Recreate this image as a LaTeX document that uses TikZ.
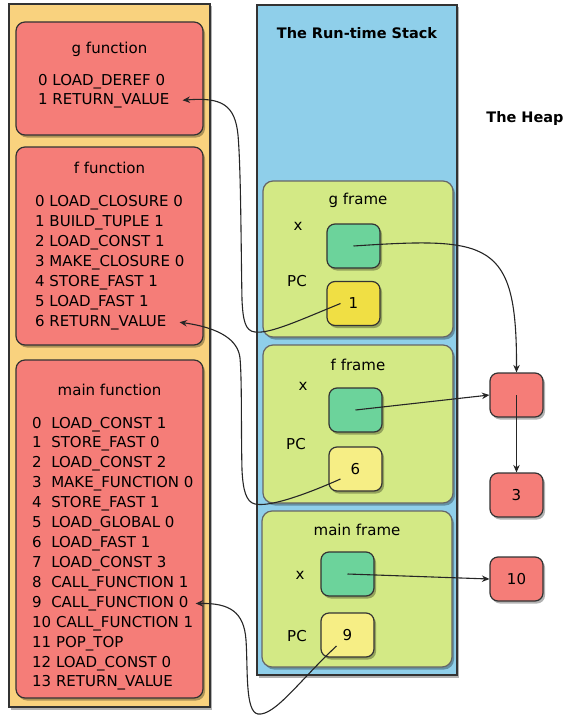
\documentclass[tikz,border=0pt]{standalone}
\usepackage{fontspec}
\setsansfont{DejaVu Sans}
\usetikzlibrary{arrows.meta,shadows}
\definecolor{codeyellow}{HTML}{F9D27E}
\definecolor{funcred}{HTML}{F57D78}
\definecolor{stackblue}{HTML}{8FCFEA}
\definecolor{framegreen}{HTML}{D3E985}
\definecolor{cellgreen}{HTML}{6CD39B}
\definecolor{pcbright}{HTML}{F0DF44}
\definecolor{pcpale}{HTML}{F6EE85}

\begin{document}
\begin{tikzpicture}[
  x=1pt,
  y=-1pt,
  font=\sffamily\fontsize{15}{18}\selectfont,
  >=Stealth,
  outline/.style={draw=black!80, line width=1.2pt},
  shade3/.style={drop shadow={shadow xshift=2pt, shadow yshift=-2.5pt, fill=black, opacity=0.3}},
  panel/.style={outline, shade3},
  funcbox/.style={panel, rounded corners=9pt, fill=funcred},
  framebox/.style={panel, rounded corners=10pt, fill=framegreen, draw=black!60},
  cell/.style={panel, rounded corners=8pt, minimum width=53pt, minimum height=44pt, inner sep=0pt},
  codeline/.style={anchor=base west, inner sep=0pt},
  caption/.style={anchor=base, inner sep=0pt},
  title/.style={caption, font=\sffamily\bfseries\fontsize{14.5}{17}\selectfont},
  pointer/.style={-{Stealth[length=7.5pt, width=6.5pt]}, line width=1.1pt, draw=black!85}
]
\useasboundingbox (0,0) rectangle (564,717);

% code objects
\node[panel, fill=codeyellow, minimum width=201pt, minimum height=703pt] (codepanel) at (109.5,355.5) {};
\node[funcbox, minimum width=187pt, minimum height=113pt] (gfunc) at (109.5,78.5) {};
\node[funcbox, minimum width=187pt, minimum height=198pt] (ffunc) at (109.5,246) {};
\node[funcbox, minimum width=187pt, minimum height=338pt] (mainfunc) at (109.5,529) {};

\node[caption] (gname) at (109.5,54) {g function};
\foreach \i/\op in {0/LOAD\_DEREF 0,1/RETURN\_VALUE}
  \node[codeline] (g-\i) at (38,{85+19*\i}) {\i\ \op};

\node[caption] (fname) at (109.5,173) {f function};
\foreach \i/\op in {0/LOAD\_CLOSURE 0,1/BUILD\_TUPLE 1,2/LOAD\_CONST 1,3/MAKE\_CLOSURE 0,4/STORE\_FAST 1,5/LOAD\_FAST 1,6/RETURN\_VALUE}
  \node[codeline] (f-\i) at (35,{206+20*\i}) {\i\ \op};

\node[caption] (mainname) at (109.5,395) {main function};
\foreach \i/\op in {0/LOAD\_CONST 1,1/STORE\_FAST 0,2/LOAD\_CONST 2,3/MAKE\_FUNCTION 0,4/STORE\_FAST 1,5/LOAD\_GLOBAL 0,6/LOAD\_FAST 1,7/LOAD\_CONST 3,8/CALL\_FUNCTION 1,9/CALL\_FUNCTION 0,10/CALL\_FUNCTION 1,11/POP\_TOP,12/LOAD\_CONST 0,13/RETURN\_VALUE}
  \node[codeline] (main-\i) at (32,{428+19.92*\i}) {\i\ \ifnum\i<10 \ \fi\op};

% run-time stack
\node[panel, fill=stackblue, minimum width=200pt, minimum height=670pt] (stack) at (357,340) {};
\node[title] (stackname) at (357,38) {The Run-time Stack};
\node[title] (heapname) at (525,122) {The Heap};

\node[framebox, minimum width=190pt, minimum height=156pt] (gframe) at (358,259) {};
\node[caption] at (358,204) {g frame};
\node[caption] at (298,230) {x};
\node[caption] at (297,286) {PC};
\node[cell, fill=cellgreen] (gx) at (353.5,246) {};
\node[cell, fill=pcbright] (gpc) at (353.5,303.5) {1};

\node[framebox, minimum width=190pt, minimum height=158pt] (fframe) at (358,424) {};
\node[caption] at (358,370) {f frame};
\node[caption] at (303,390) {x};
\node[caption] at (296,449) {PC};
\node[cell, fill=cellgreen] (fx) at (355.5,410) {};
\node[cell, fill=pcpale] (fpc) at (355.5,469) {6};

\node[framebox, minimum width=190pt, minimum height=156pt] (mainframe) at (357,589) {};
\node[caption] at (357,535) {main frame};
\node[caption] at (300,579) {x};
\node[caption] at (297,641) {PC};
\node[cell, fill=cellgreen] (mainx) at (347.5,574) {};
\node[cell, fill=pcpale] (mainpc) at (347.5,635) {9};

% heap
\node[cell, fill=funcred] (heapa) at (516.5,395) {};
\node[cell, fill=funcred] (heapb) at (516.5,495) {3};
\node[cell, fill=funcred] (heapc) at (516.5,579) {10};

% references
\draw[pointer] (gx.center) .. controls (490,237) and (517,240) .. (heapa.north);
\draw[pointer] (fx.center) -- (heapa.west);
\draw[pointer] (heapa.center) -- (heapb.north);
\draw[pointer] (mainx.center) -- (heapc.west);

% return addresses
\draw[pointer] ([xshift=-13pt]gpc.center) .. controls (300,320) and (270,334) .. (255,332)
  .. controls (245,331) and (243,320) .. (242,300) .. controls (241,250) and (241,170) .. (238,135)
  .. controls (235,105) and (222,97) .. ([xshift=13pt]g-1.east);
\draw[pointer] ([xshift=-15pt,yshift=-10pt]fpc.center) .. controls (300,497) and (268,507) .. (255,504)
  .. controls (246,502) and (243,490) .. (242,470) .. controls (241,430) and (242,380) .. (240,358)
  .. controls (238,340) and (220,328) .. ([xshift=13pt]f-6.east);
\draw[pointer] ([xshift=-11pt,yshift=-11pt]mainpc.center) .. controls (300,680) and (275,716) .. (258,714)
  .. controls (245,712) and (248,670) .. (246,640) .. controls (244,612) and (230,603) .. ([xshift=7pt]main-9.east);

\end{tikzpicture}
\end{document}
